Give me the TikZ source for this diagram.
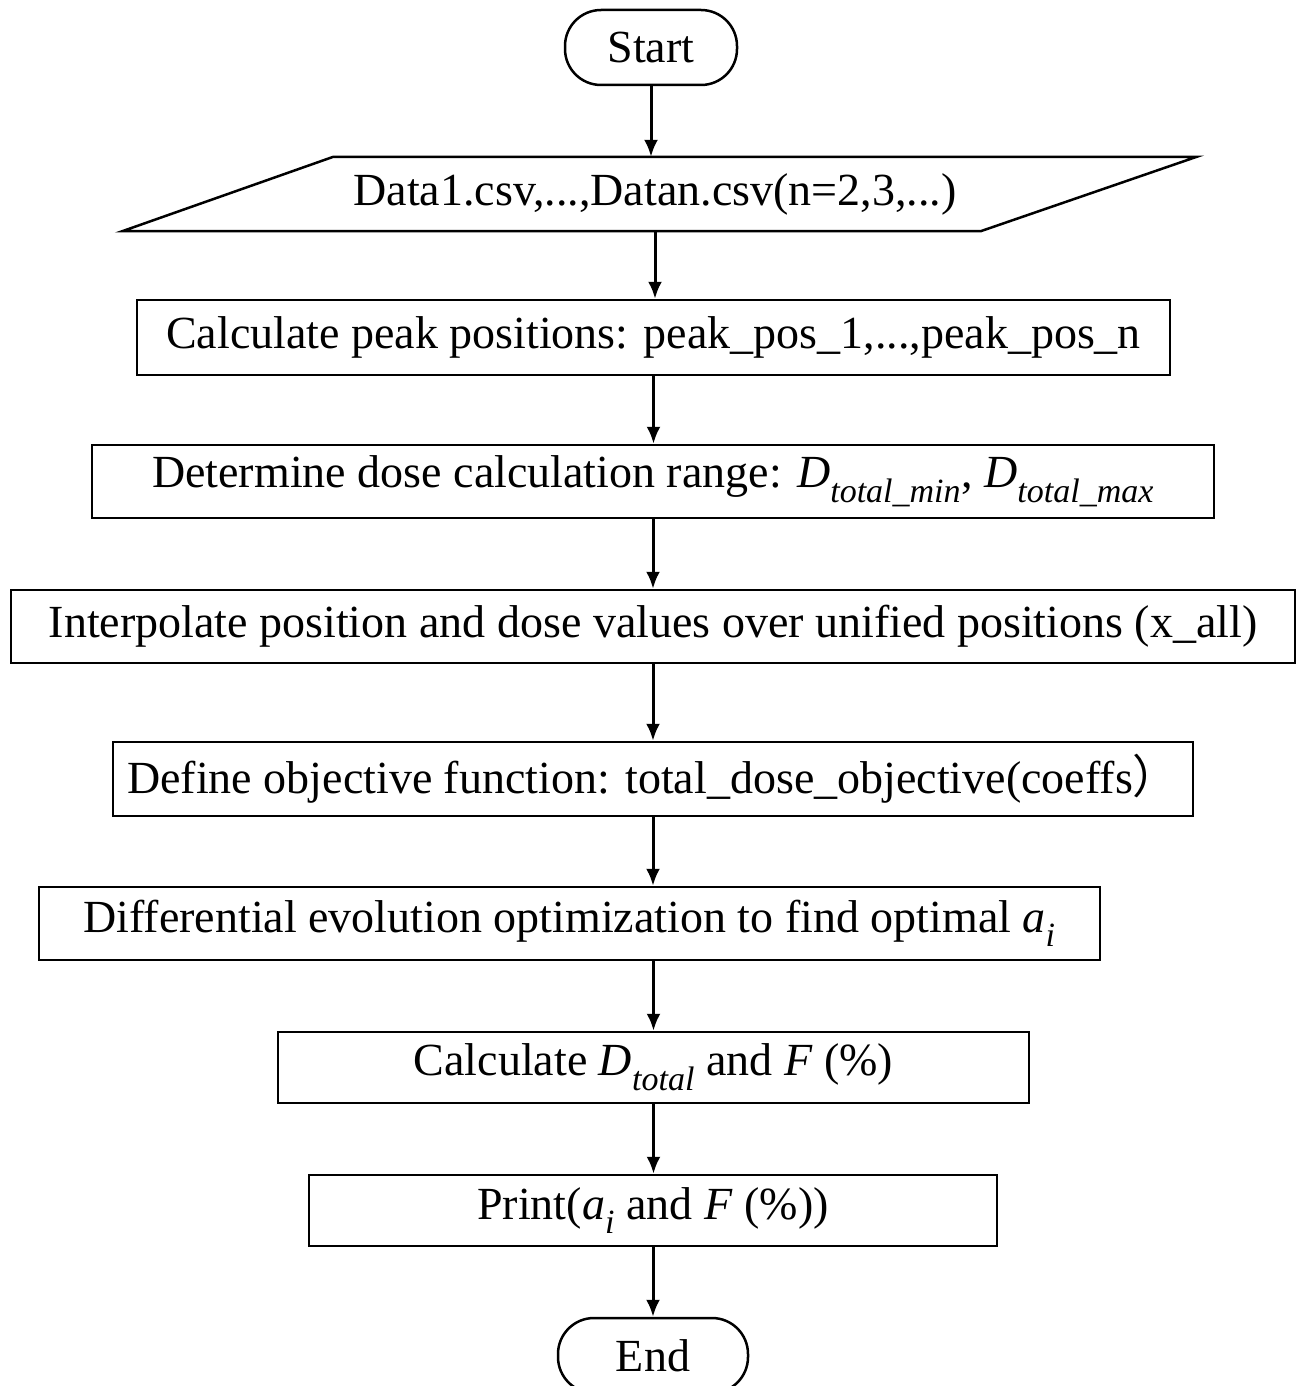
\documentclass[tikz,border=0pt]{standalone}
\usepackage{amsmath}
\usepackage{fontspec}
\setmainfont{Liberation Serif}
\newfontfamily\cjk{Noto Sans CJK SC}
\usetikzlibrary{arrows.meta}
\DeclareMathSizes{46}{46}{34}{25}
\newcommand{\mi}[1]{\textit{#1}}
\begin{document}
\begin{tikzpicture}[x=1pt,y=-1pt,
  font=\fontsize{46}{55}\selectfont,
  box/.style={draw, line width=2.5pt, inner sep=0pt},
  term/.style={box, rounded corners=36pt},
  arr/.style={line width=3pt, -{Latex[length=17pt,width=14pt]}}]
\fill[white] (0,0) rectangle (1304,1386);
\useasboundingbox (0,0) rectangle (1304,1386);

\node[term, minimum width=172pt, minimum height=75pt] (start) at (651,47.5) {Start};
\node[inner sep=0pt, minimum width=863pt, minimum height=74pt] (data) at (655,194) {Data1.csv,...,Datan.csv(n=2,3,...)};
\draw[line width=2.5pt] ([xshift=-101pt]data.south west) -- ([xshift=-106pt]data.south east) -- ([xshift=110pt]data.north east) -- ([xshift=110pt]data.north west) -- cycle;

\node[box, minimum width=1033pt, minimum height=75pt] (b1) at (653.5,337.5) {Calculate peak positions: peak\_pos\_1,...,peak\_pos\_n};
\node[box, minimum width=1122pt, minimum height=73pt] (b2) at (653,481.5) {Determine dose calculation range: $\mi{D}_{\mi{total\_min}}$, $\mi{D}_{\mi{total\_max}}$};
\node[box, minimum width=1284pt, minimum height=73pt] (b3) at (653,626.5) {Interpolate position and dose values over unified positions (x\_all)};
\node[box, minimum width=1080pt, minimum height=74pt] (b4) at (653,779) {Define objective function: total\_dose\_objective(coeffs{\cjk ）}};
\node[box, minimum width=1061pt, minimum height=73pt] (b5) at (569.5,923.5) {Differential evolution optimization to find optimal $\mi{a}_{\mi{i}}$};
\node[box, minimum width=751pt, minimum height=71pt] (b6) at (653.5,1067.5) {Calculate $\mi{D}_{\mi{total}}$ and \mi{F} (\%)};
\node[box, minimum width=688pt, minimum height=71pt] (b7) at (653,1210.5) {Print($\mi{a}_{\mi{i}}$ and \mi{F} (\%))};
\node[term, minimum width=190pt, minimum height=75pt] (end) at (653,1355.5) {End};

\draw[arr] (start.south) -- (start.south |- data.north);
\draw[arr] (data.south) -- (data.south |- b1.north);
\draw[arr] (b1.south) -- (b1.south |- b2.north);
\draw[arr] (b2.south) -- (b2.south |- b3.north);
\draw[arr] (b3.south) -- (b3.south |- b4.north);
\draw[arr] (b4.south) -- (b4.south |- b5.north);
\draw[arr] (b5.south -| b6.north) -- (b6.north);
\draw[arr] (b6.south) -- (b6.south |- b7.north);
\draw[arr] (b7.south) -- (b7.south |- end.north);
\end{tikzpicture}
\end{document}
